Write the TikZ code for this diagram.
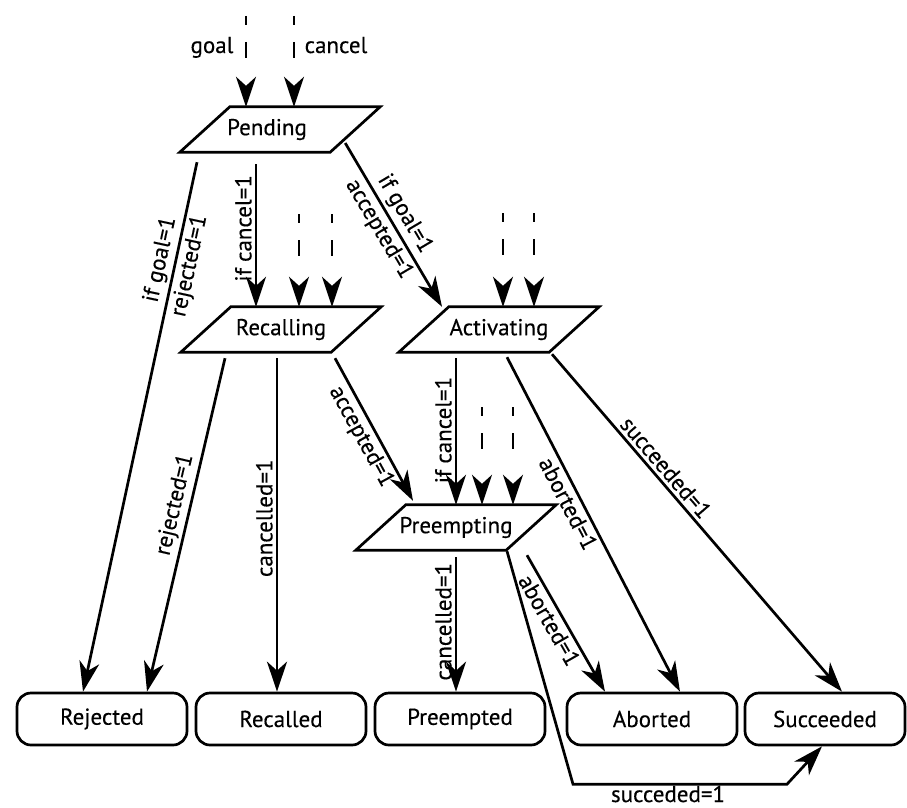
\documentclass[tikz,border=0pt]{standalone}
\usepackage{fontspec}
\setmainfont{PT Sans}[FakeBold=0.3]
\usetikzlibrary{arrows.meta,calc}
\begin{document}
\begin{tikzpicture}[x=1pt,y=1pt,
  font=\fontsize{23}{26}\selectfont,
  conn/.style={line width=2.7pt, -{Stealth[length=30pt,width=20pt,inset=9pt]}},
  dashin/.style={conn, dash pattern=on 9pt off 17pt on 16pt off 60pt},
  paratext/.style={inner sep=0pt, minimum width=150pt, minimum height=45pt},
  paraline/.style={line width=2.7pt, line join=miter},
  endbox/.style={draw, line width=2.7pt, rounded corners=14pt, minimum width=170pt, minimum height=52pt, inner sep=0pt},
  lbl/.style={inner sep=3pt},
  vlbl/.style={inner sep=3pt, rotate=90, anchor=south}
]
\useasboundingbox (0,0) rectangle (907,-808);

% state nodes (parallelograms)
\node[paratext] (pend) at (280,-129.5) {Pending\hspace*{26pt}};
\node[paratext] (recl) at (281,-329.5) {Recalling};
\node[paratext] (actv) at (499,-329.5) {Activating};
\node[paratext] (prem) at (456,-527.5) {Preempting};
\foreach \n in {pend,recl,actv,prem}
  \draw[paraline] ([xshift=-25pt]\n.south west) -- ([xshift=-25pt]\n.south east)
     -- ([xshift=25pt]\n.north east) -- ([xshift=25pt]\n.north west) -- cycle;

% terminal nodes
\node[endbox] (rej) at (102,-719) {Rejected};
\node[endbox] (rcd) at (281,-719) {Recalled};
\node[endbox] (pre) at (460,-719) {Preempted};
\node[endbox] (abo) at (652,-719) {Aborted};
\node[endbox, minimum width=160pt] (suc) at (825,-719) {Succeeded};

% input labels
\node[anchor=base, inner sep=0pt] (goal) at (212,-53) {goal};
\node[anchor=base, inner sep=0pt] (cancel) at (336,-53) {cancel};

% dashed inputs
\coordinate (pin1) at (246,-16);
\coordinate (pin2) at (294,-16);
\draw[dashin] (pin1) -- ([xshift=-34pt]pend.north);
\draw[dashin] (pin2) -- ([xshift=14pt]pend.north);
\coordinate (rin1) at (299,-214);
\coordinate (rin2) at (332,-214);
\draw[dashin] (rin1) -- ([xshift=18pt]recl.north);
\draw[dashin] (rin2) -- ([xshift=51pt]recl.north);
\coordinate (ain1) at (503,-213);
\coordinate (ain2) at (534,-213);
\draw[dashin] (ain1) -- ([xshift=4pt]actv.north);
\draw[dashin] (ain2) -- ([xshift=35pt]actv.north);
\coordinate (qin1) at (482,-407);
\coordinate (qin2) at (513,-407);
\draw[dashin] (qin1) -- ([xshift=26pt]prem.north);
\draw[dashin] (qin2) -- ([xshift=57pt]prem.north);

% transitions from Pending
\draw[conn] ([shift={(-83,-10)}]pend.south) -- ([xshift=-19pt]rej.north)
  node[lbl, sloped, pos=0.19, above] {if goal=1}
  node[lbl, sloped, pos=0.19, below] {rejected=1};
\draw[conn] ([shift={(-24,-12)}]pend.south) -- ([xshift=-25pt]recl.north)
  node[vlbl, pos=0.45] {if cancel=1};
\draw[conn] ([shift={(-10,-13.5)}]pend.east) -- ([xshift=-57pt]actv.north)
  node[lbl, sloped, pos=0.48, above] {if goal=1}
  node[lbl, sloped, pos=0.48, below] {accepted=1};

% transitions from Recalling
\draw[conn] ([shift={(-56,-6)}]recl.south) -- ([xshift=45pt]rej.north)
  node[lbl, sloped, pos=0.45, above] {rejected=1};
\draw[conn] ([shift={(-4,-6)}]recl.south) -- ([xshift=-4pt]rcd.north)
  node[vlbl, pos=0.48] {cancelled=1};
\draw[conn] ([shift={(54,-6)}]recl.south) -- ([shift={(-43,4)}]prem.north)
  node[lbl, sloped, pos=0.5, below] {accepted=1};

% transitions from Activating
\draw[conn] ([shift={(-43,-6)}]actv.south) -- (prem.north)
  node[vlbl, pos=0.49] {if cancel=1};
\draw[conn] ([shift={(8,-5)}]actv.south) -- ([xshift=28pt]abo.north)
  node[lbl, sloped, pos=0.42, below] {aborted=1};
\draw[conn] ([shift={(53,-2)}]actv.south) -- ([xshift=17pt]suc.north)
  node[lbl, sloped, pos=0.36, above] {succeeded=1};

% transitions from Preempting
\draw[conn] ([shift={(0,-7)}]prem.south) -- ([xshift=-4pt]pre.north)
  node[vlbl, pos=0.48] {cancelled=1};
\draw[conn] ([shift={(71,-5)}]prem.south) -- ([xshift=-47pt]abo.north)
  node[lbl, sloped, pos=0.43, below] {aborted=1};
\draw[conn, line join=miter] ([shift={(51,-1)}]prem.south) -- ++(66,-233) -- ++(214,0)
  -- ([xshift=-3pt]suc.south);
\node[anchor=base, inner sep=0pt] (sucl) at (668,-802) {succeded=1};
\end{tikzpicture}
\end{document}
